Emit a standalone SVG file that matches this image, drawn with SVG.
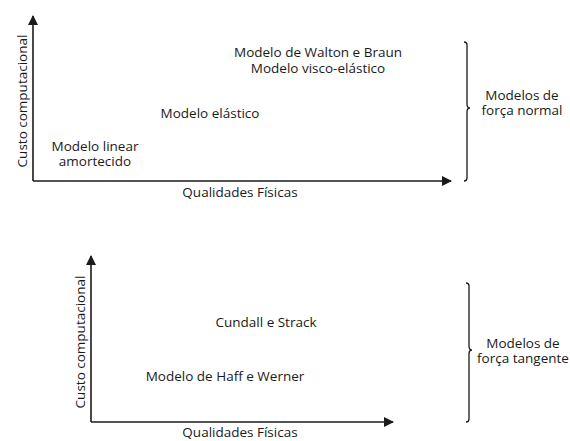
<svg xmlns="http://www.w3.org/2000/svg" width="570" height="441" viewBox="0 0 570 441">
<style>
text{font-family:"Open Sans","Noto Sans",sans-serif;font-size:13.5px;fill:#1a1a1a;text-anchor:middle}
.ax{stroke:#1a1a1a;stroke-width:1.6;fill:none}
.br{stroke:#1a1a1a;stroke-width:1.3;fill:none}
</style>
<defs>
<marker id="ah" viewBox="0 0 10 10" refX="9" refY="5" markerWidth="10" markerHeight="10" markerUnits="userSpaceOnUse" orient="auto"><path d="M0,0 L10,5 L0,10 Z" fill="#1a1a1a"/></marker>
</defs>
<g id="connectors">
<path class="ax" d="M33,181 V16" marker-end="url(#ah)"/>
<path class="ax" d="M33,181 H451" marker-end="url(#ah)"/>
<path class="ax" d="M91,422 V256" marker-end="url(#ah)"/>
<path class="ax" d="M91,422 H393" marker-end="url(#ah)"/>
<path class="br" d="M464,42 Q467,42 467,45 V104 Q467,108 470,108 Q467,108 467,112 V178 Q467,181 464,181"/>
<path class="br" d="M466,283 Q469,283 469,286 V346 Q469,350 472,350 Q469,350 469,354 V419 Q469,422 466,422"/>
</g>
<g id="axis-labels">
<text x="240" y="197">Qualidades Físicas</text>
<text transform="translate(22,101) rotate(-90)" dy="4.5">Custo computacional</text>
<text x="240" y="437">Qualidades Físicas</text>
<text transform="translate(80,342) rotate(-90)" dy="4.5">Custo computacional</text>
</g>
<g id="n-walton"><text x="318" y="56.5">Modelo de Walton e Braun</text><text x="318" y="72.5">Modelo visco-elástico</text></g>
<g id="n-elastico"><text x="210" y="118">Modelo elástico</text></g>
<g id="n-linear"><text x="95" y="151">Modelo linear</text><text x="95" y="165.5">amortecido</text></g>
<g id="n-normal"><text x="522" y="100">Modelos de</text><text x="522" y="114.5">força normal</text></g>
<g id="n-cundall"><text x="266" y="327">Cundall e Strack</text></g>
<g id="n-haff"><text x="225" y="381">Modelo de Haff e Werner</text></g>
<g id="n-tangente"><text x="523" y="348">Modelos de</text><text x="523" y="362.5">força tangente</text></g>
</svg>
